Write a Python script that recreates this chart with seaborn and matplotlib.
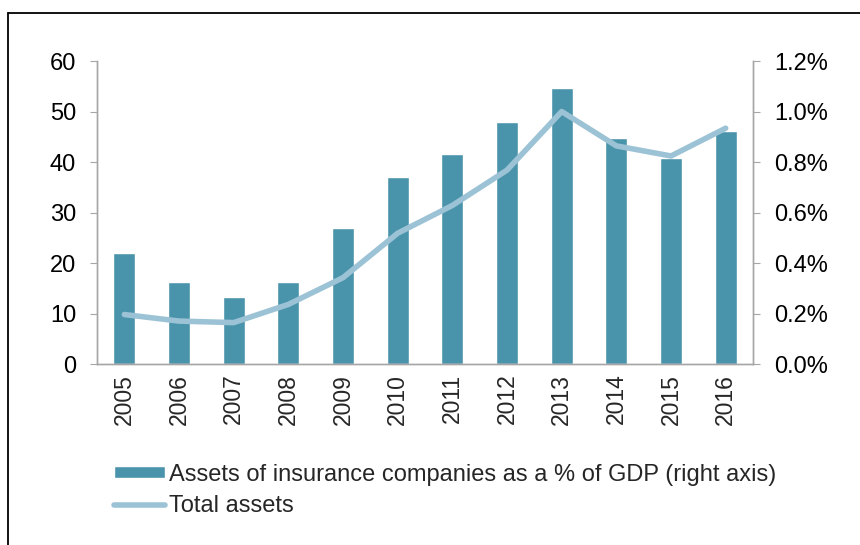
import numpy as np
import pandas as pd
import seaborn as sns
import matplotlib.pyplot as plt
from matplotlib.lines import Line2D
from matplotlib.ticker import FuncFormatter

years = ['2005', '2006', '2007', '2008', '2009', '2010', '2011', '2012', '2013', '2014', '2015', '2016']
# assets of insurance companies, % of GDP (right axis)
assets_pct_gdp = [0.44, 0.326, 0.264, 0.326, 0.538, 0.74, 0.832, 0.958, 1.094, 0.896, 0.816, 0.922]
# total assets (left axis)
total_assets = [9.8, 8.5, 8.2, 11.8, 17.1, 25.9, 31.4, 38.4, 50.0, 43.2, 41.2, 46.7]

bar_label = 'Assets of insurance companies as a % of GDP (right axis)'
line_label = 'Total assets'

sns.set_style('white')
plt.rcParams['font.family'] = ['Liberation Sans', 'DejaVu Sans']

df = pd.DataFrame({'year': years, 'pct': assets_pct_gdp, 'total': total_assets})

fig = plt.figure(figsize=(8.6, 5.45), dpi=100)
ax = fig.add_axes([0.1128, 0.3321, 0.7628, 0.5559])
ax2 = ax.twinx()

# bars on the primary axes, shown with the right-hand scale
sns.barplot(data=df, x='year', y='pct', color='#4A94AB', saturation=1, width=0.4,
            ax=ax, label=bar_label)
ax.set_ylim(0, 1.2)
ax.set_yticks(np.arange(0, 1.21, 0.2))
ax.yaxis.set_major_formatter(FuncFormatter(lambda v, p: f'{v:.1f}%'))
ax.set_xlim(-0.5, len(years) - 0.5)

# line on the twin axes, left-hand scale
sns.lineplot(x=np.arange(len(years)), y=df['total'], color='#9CC3D5', linewidth=4,
             ax=ax2, label=line_label, solid_capstyle='round')
ax2.set_ylim(0, 60)
ax2.set_yticks(range(0, 61, 10))
ax2.set_xlim(-0.5, len(years) - 0.5)

ax.yaxis.tick_right()
ax2.yaxis.tick_left()

grey = '#A6A6A6'
for a in (ax, ax2):
    a.set_xlabel('')
    a.set_ylabel('')
    a.spines['top'].set_visible(False)
    for s in ('left', 'right', 'bottom'):
        a.spines[s].set_color(grey)
        a.spines[s].set_linewidth(1.0)
    a.tick_params(axis='y', length=5, color=grey, labelsize=17, labelcolor='black', pad=10)
    if a.get_legend() is not None:
        a.get_legend().remove()

ax.tick_params(axis='x', length=0, labelsize=16.5, rotation=90, pad=7)

h1, l1 = ax.get_legend_handles_labels()
h2, l2 = ax2.get_legend_handles_labels()
fig.legend(h1 + h2, l1 + l2, loc='upper left', bbox_to_anchor=(0.1326, 0.149),
           frameon=False, fontsize=17, handlelength=2.16, handleheight=0.42,
           handletextpad=0.15, labelspacing=0.4, borderpad=0, borderaxespad=0)

# frame lines around the figure (top and left edges)
fig.add_artist(Line2D([8 / 860, 1], [1 - 13 / 545, 1 - 13 / 545], color='black', lw=1.3,
                      transform=fig.transFigure))
fig.add_artist(Line2D([8 / 860, 8 / 860], [0, 1 - 13 / 545], color='black', lw=1.3,
                      transform=fig.transFigure))

fig.savefig('out.png', dpi=100)
